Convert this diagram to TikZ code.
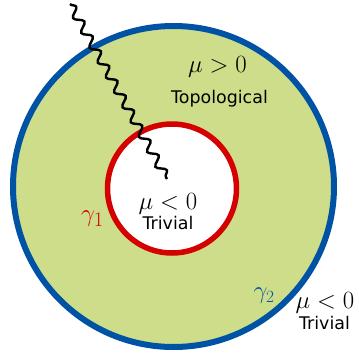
\documentclass[tikz,border=0pt]{standalone}
\usepackage{fontspec}
\setsansfont{DejaVu Sans}
\usetikzlibrary{decorations.pathmorphing}
\definecolor{fillgreen}{RGB}{205,221,138}
\definecolor{ringblue}{RGB}{0,82,165}
\definecolor{ringred}{RGB}{213,0,0}
\tikzset{
  mathlbl/.style={inner sep=0pt, font=\fontsize{25.5}{28}\selectfont},
  txtlbl/.style={inner sep=0pt, font=\sffamily\fontsize{17.5}{20}\selectfont},
  wave/.style={line width=2.4bp, black, decorate,
    decoration={snake, segment length=17bp, amplitude=4.2bp, pre length=0bp, post length=0bp}}
}
\begin{document}
\begin{tikzpicture}[x=1bp,y=-1bp]
\useasboundingbox (0,0) rectangle (359,356);
\fill[fillgreen, draw=ringblue, line width=6bp] (173.5,186.5) circle (160.5);
\fill[white, draw=ringred, line width=5.5bp] (172,188.5) circle (64.5);
\coordinate (w1) at (70,4);
\coordinate (w2) at (167,179);
\draw[wave] (w1) -- (w2);
\node[mathlbl] (mutop) at (217.5,67) {$\mu>0$};
\node[txtlbl] (topo) at (219.5,99) {Topological};
\node[mathlbl] (muin) at (168,204) {$\mu<0$};
\node[txtlbl] (trivin) at (168,223) {Trivial};
\node[mathlbl, text=ringred, font=\fontsize{29}{32}\selectfont] (g1) at (92.5,219) {$\gamma_1$};
\node[mathlbl, text=ringblue, font=\fontsize{25}{28}\selectfont] (g2) at (264,296) {$\gamma_2$};
\node[mathlbl] (muout) at (325,303) {$\mu<0$};
\node[txtlbl] (trivout) at (324.5,323) {Trivial};
\end{tikzpicture}
\end{document}
